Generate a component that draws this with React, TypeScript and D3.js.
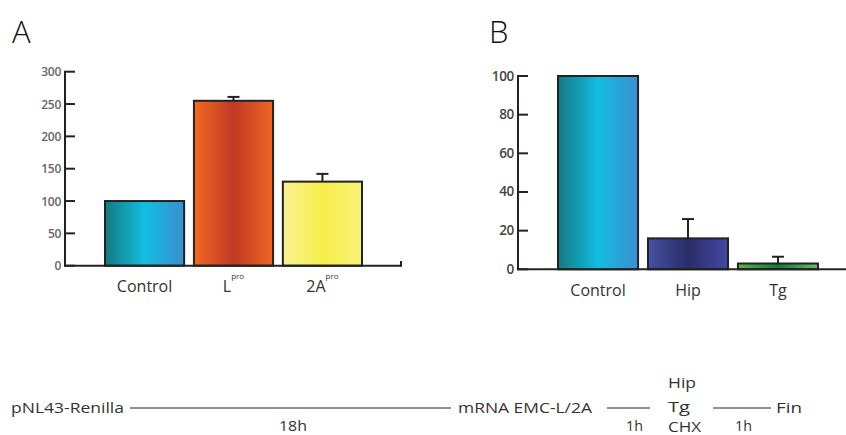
import React from "react";
import * as d3 from "d3";

// panel A: relative expression, three conditions
const catsA = ["Control", "L", "2A"];
const valsA = [100, 255, 130];
const errA = [0, 6, 12];
const supA = ["", "pro", "pro"];
const ticksA = [0, 50, 100, 150, 200, 250, 300];

// panel B: translation after drug treatment
const catsB = ["Control", "Hip", "Tg"];
const valsB = [100, 16, 3];
const errB = [0, 10, 3.5];
const ticksB = [0, 20, 40, 60, 80, 100];

const gradsA = [
  ["#137a80", "#12bde0", "#3b8fd0"],
  ["#f26a22", "#c03a25", "#f06522"],
  ["#f8f294", "#f6ee48", "#f8f277"],
];
const gradsB = [
  ["#137a80", "#12bde0", "#3b8fd0"],
  ["#4550a2", "#2a2d68", "#4249a2"],
  ["#62b244", "#137a40", "#72ba62"],
];

const font = "'Open Sans', 'DejaVu Sans', sans-serif";

function Panel({ id, cats, vals, errs, sups, ticks, grads, x0, x1, xEnd, yTop, yBot, max, tickColor, tickSize, labelY }) {
  const x = d3.scaleBand().domain(cats).range([x0, x1]).paddingInner(0.11).paddingOuter(0);
  const y = d3.scaleLinear().domain([0, max]).range([yBot, yTop]);
  const axisX = x0 - 40;
  return (
    <g>
      <defs>
        {grads.map((g, i) => (
          <linearGradient key={i} id={`${id}g${i}`} x1="0" x2="1" y1="0" y2="0">
            <stop offset="0%" stopColor={g[0]} />
            <stop offset="50%" stopColor={g[1]} />
            <stop offset="100%" stopColor={g[2]} />
          </linearGradient>
        ))}
      </defs>
      {cats.map((c, i) => (
        <g key={c}>
          <rect x={x(c)} y={y(vals[i])} width={x.bandwidth()} height={yBot - y(vals[i])}
            fill={`url(#${id}g${i})`} stroke="#222" strokeWidth={2} />
          {errs[i] > 0 && (
            <g stroke="#222" strokeWidth={2}>
              <line x1={x(c) + x.bandwidth() / 2} x2={x(c) + x.bandwidth() / 2} y1={y(vals[i])} y2={y(vals[i] + errs[i])} />
              <line x1={x(c) + x.bandwidth() / 2 - 6} x2={x(c) + x.bandwidth() / 2 + 6} y1={y(vals[i] + errs[i])} y2={y(vals[i] + errs[i])} />
            </g>
          )}
          <text x={x(c) + x.bandwidth() / 2} y={labelY} textAnchor="middle" fontFamily={font} fontSize={16} fill="#333">
            {c}
            {sups && sups[i] ? <tspan dy={-13} fontSize={8}>{sups[i]}</tspan> : null}
          </text>
        </g>
      ))}
      <line x1={axisX} x2={axisX} y1={yTop - 1} y2={yBot + 1} stroke="#222" strokeWidth={2} />
      <line x1={axisX - 1} x2={xEnd} y1={yBot} y2={yBot} stroke="#222" strokeWidth={2} />
      {ticks.map((t) => (
        <g key={t}>
          <line x1={axisX} x2={axisX + 10} y1={y(t)} y2={y(t)} stroke="#222" strokeWidth={2} />
          <text x={axisX - 4} y={y(t) + 4.5} textAnchor="end" fontFamily={font} fontSize={tickSize} fontWeight={600} fill={tickColor} letterSpacing={-0.3}>{t}</text>
        </g>
      ))}
    </g>
  );
}

export default function App() {
  return (
    <svg width={846} height={435} style={{ position: "absolute", left: 0, top: 0, background: "#fff" }}>
      <text x={12} y={43} fontFamily={font} fontSize={31} fontWeight={300} fill="#111">A</text>
      <text x={489} y={43} fontFamily={font} fontSize={31} fontWeight={300} fill="#111">B</text>
      <Panel id="a" cats={catsA} vals={valsA} errs={errA} sups={supA} ticks={ticksA} grads={gradsA}
        x0={105} x1={362} xEnd={401} yTop={71.7} yBot={265.7} max={300} tickColor="#666" tickSize={12} labelY={292} />
      <line x1={401} x2={401} y1={261} y2={266.7} stroke="#222" strokeWidth={2} />
      <Panel id="b" cats={catsB} vals={valsB} errs={errB} sups={null} ticks={ticksB} grads={gradsB}
        x0={558} x1={818} xEnd={846} yTop={76} yBot={269.3} max={100} tickColor="#444" tickSize={13.5} labelY={296} />
      <g fontFamily={font} fontSize={14.5} fill="#333">
        <text x={11} y={413} textLength={113} lengthAdjust="spacingAndGlyphs">pNL43-Renilla</text>
        <line x1={130} x2={451} y1={408} y2={408} stroke="#222" strokeWidth={1} />
        <text x={458} y={413} textLength={134} lengthAdjust="spacingAndGlyphs">mRNA EMC-L/2A</text>
        <line x1={607} x2={650} y1={408} y2={408} stroke="#222" strokeWidth={1} />
        <text x={668} y={388} textLength={28} lengthAdjust="spacingAndGlyphs">Hip</text>
        <text x={668} y={412} textLength={22} lengthAdjust="spacingAndGlyphs">Tg</text>
        <text x={668} y={432} textLength={33} lengthAdjust="spacingAndGlyphs">CHX</text>
        <line x1={713} x2={771} y1={408} y2={408} stroke="#222" strokeWidth={1} />
        <text x={776} y={413} textLength={26} lengthAdjust="spacingAndGlyphs">Fin</text>
        <text x={279} y={431} textLength={28} lengthAdjust="spacingAndGlyphs">18h</text>
        <text x={626} y={431} textLength={17} lengthAdjust="spacingAndGlyphs">1h</text>
        <text x={735} y={431} textLength={17} lengthAdjust="spacingAndGlyphs">1h</text>
      </g>
    </svg>
  );
}
